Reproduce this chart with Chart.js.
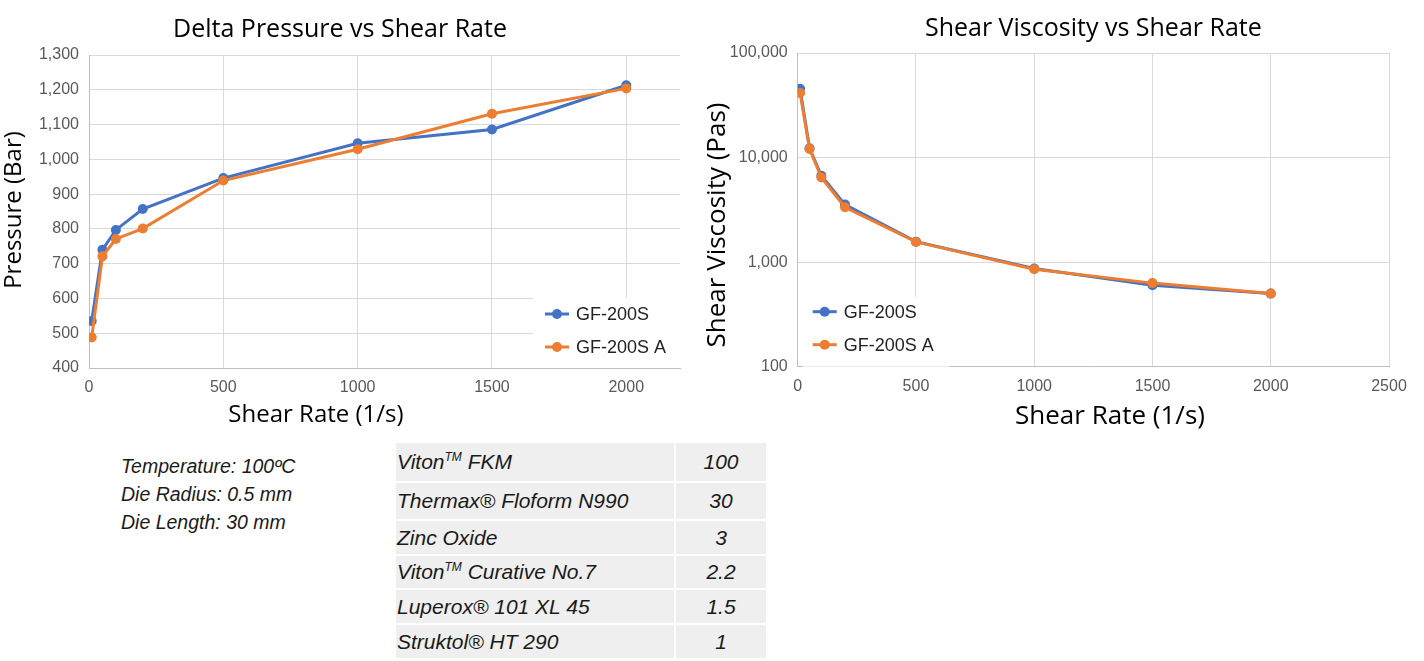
<!DOCTYPE html>
<html>
<head>
<meta charset="utf-8">
<script src="https://cdn.jsdelivr.net/npm/chart.js@4"></script>
<style>
  body { margin: 0; background: #fff; width: 1424px; height: 661px; position: relative; overflow: hidden; }
  #leftBox { position: absolute; left: 0; top: 0; width: 700px; height: 440px; }
  #rightBox { position: absolute; left: 700px; top: 0; width: 724px; height: 440px; }
  .params { position: absolute; left: 121px; top: 452px; font: italic 19.5px "Liberation Sans", Arial, sans-serif; line-height: 28px; color: #1a1a1a; }
  table.recipe { position: absolute; left: 396px; top: 443px; border-collapse: collapse; font: italic 21px "Liberation Sans", Arial, sans-serif; color: #1a1a1a; }
  table.recipe td { background: #efefef; padding: 0 0 0 1px; border-bottom: 2px solid #fff; }
  table.recipe td.amt { text-align: center; border-left: 2px solid #fff; padding: 0; }
  table.recipe tr:last-child td { border-bottom: none; }
  sup { font-size: 12px; vertical-align: 8px; line-height: 0; }
</style>
</head>
<body>
<div id="leftBox"><canvas id="pressureChart" width="700" height="440"></canvas></div>
<div id="rightBox"><canvas id="viscosityChart" width="724" height="440"></canvas></div>

<div class="params">
  Temperature: 100ºC<br>
  Die Radius: 0.5 mm<br>
  Die Length: 30 mm
</div>

<table class="recipe">
  <tr style="height:39px"><td style="width:277px">Viton<sup>TM</sup> FKM</td><td class="amt" style="width:90px">100</td></tr>
  <tr style="height:38px"><td>Thermax® Floform N990</td><td class="amt">30</td></tr>
  <tr style="height:35px"><td>Zinc Oxide</td><td class="amt">3</td></tr>
  <tr style="height:34px"><td>Viton<sup>TM</sup> Curative No.7</td><td class="amt">2.2</td></tr>
  <tr style="height:35px"><td>Luperox® 101 XL 45</td><td class="amt">1.5</td></tr>
  <tr style="height:34px"><td>Struktol® HT 290</td><td class="amt">1</td></tr>
</table>

<script>
// capillary rheometer results

const shearRate = [10, 50, 100, 200, 500, 1000, 1500, 2000];

const pressureGF200S  = [535, 740, 797, 857, 946, 1046, 1086, 1213];
const pressureGF200SA = [488, 721, 771, 801, 939, 1029, 1131, 1204];

const viscosityGF200S  = [45500, 12300, 6700, 3550, 1570, 870, 600, 500];
const viscosityGF200SA = [41500, 12100, 6450, 3350, 1560, 855, 630, 500];

const pressureXTicks = [0, 500, 1000, 1500, 2000];
const viscosityXTicks = [0, 500, 1000, 1500, 2000, 2500];
const viscosityTicks = [100, 1000, 10000, 100000];

const seriesNames = ['GF-200S', 'GF-200S A'];
const blue = '#4472C4';
const orange = '#ED7D31';

const titleFont = { family: 'Open Sans', size: 25, weight: 'normal' };
const tickFont = { family: 'Liberation Sans', size: 16 };
const tickColor = '#595959';
const gridColor = '#d9d9d9';
const axisColor = '#bfbfbf';

// legend drawn inside the plot area, like the Excel one
const insideLegend = {
    id: 'insideLegend',
    beforeDatasetsDraw(chart, args, opts) {
        const ctx = chart.ctx;
        const area = chart.chartArea;
        const boxX = opts.side === 'right' ? area.right - opts.width : area.left + opts.inset;
        const boxY = area.bottom - opts.height;
        ctx.save();
        ctx.fillStyle = '#fff';
        ctx.fillRect(boxX, boxY, opts.width, opts.height);
        ctx.font = '18px "Liberation Sans"';
        ctx.textBaseline = 'middle';
        chart.data.datasets.forEach(function(ds, i) {
            const y = area.bottom - opts.rows[i];
            const x0 = boxX + opts.lineStart;
            ctx.strokeStyle = ds.borderColor;
            ctx.lineWidth = 3;
            ctx.beginPath();
            ctx.moveTo(x0, y);
            ctx.lineTo(x0 + 24, y);
            ctx.stroke();
            ctx.fillStyle = ds.borderColor;
            ctx.beginPath();
            ctx.arc(x0 + 12, y, 5, 0, Math.PI * 2);
            ctx.fill();
            ctx.fillStyle = '#222';
            ctx.fillText(ds.label, x0 + 31, y + 1);
        });
        ctx.restore();
    }
};

// axis captions; Excel did not centre them on the plot area
const axisCaptions = {
    id: 'axisCaptions',
    afterDraw(chart, args, opts) {
        const ctx = chart.ctx;
        ctx.save();
        ctx.font = opts.size + 'px "Open Sans"';
        ctx.fillStyle = '#000';
        ctx.textAlign = 'center';
        ctx.textBaseline = 'middle';
        ctx.fillText(opts.x.text, opts.x.cx, opts.x.cy);
        ctx.translate(opts.y.cx, opts.y.cy);
        ctx.rotate(-Math.PI / 2);
        ctx.fillText(opts.y.text, 0, 0);
        ctx.restore();
    }
};

function makeDatasets(first, second) {
    return [
        { label: seriesNames[0], data: shearRate.map((x, i) => ({ x: x, y: first[i] })),
          borderColor: blue, backgroundColor: blue, borderWidth: 3, pointRadius: 5,
          pointBorderWidth: 0, order: 1 },
        { label: seriesNames[1], data: shearRate.map((x, i) => ({ x: x, y: second[i] })),
          borderColor: orange, backgroundColor: orange, borderWidth: 3, pointRadius: 5,
          pointBorderWidth: 0, order: 0 }
    ];
}

function fixedTicks(values) {
    return function(scale) { scale.ticks = values.map(v => ({ value: v })); };
}

window.onload = function() {
    new Chart(document.getElementById('pressureChart'), {
        type: 'line',
        data: { datasets: makeDatasets(pressureGF200S, pressureGF200SA) },
        plugins: [insideLegend, axisCaptions],
        options: {
            responsive: false,
            animation: false,
            layout: { padding: { top: 2, left: 0, right: 20, bottom: 0 } },
            plugins: {
                legend: { display: false },
                tooltip: { enabled: false },
                title: { display: true, text: 'Delta Pressure vs Shear Rate', font: titleFont,
                         color: '#000', padding: { top: 13, bottom: 10 } },
                insideLegend: { side: 'right', width: 147, height: 70, inset: 0, lineStart: 12, rows: [54, 21] },
                axisCaptions: { size: 24,
                                x: { text: 'Shear Rate (1/s)', cx: 316, cy: 415 },
                                y: { text: 'Pressure (Bar)', cx: 14, cy: 210 } }
            },
            scales: {
                x: {
                    type: 'linear', min: 0, max: 2200,
                    afterBuildTicks: fixedTicks(pressureXTicks),
                    ticks: { font: tickFont, color: tickColor, padding: 10, callback: v => String(v) },
                    grid: { color: gridColor, drawTicks: false },
                    border: { color: axisColor },
                    afterFit: function(s) { s.height = 72; }
                },
                y: {
                    min: 400, max: 1300,
                    ticks: { stepSize: 100, font: tickFont, color: tickColor, padding: 10,
                             callback: v => v.toLocaleString('en-US') },
                    grid: { color: gridColor, drawTicks: false },
                    border: { color: axisColor },
                    afterFit: function(s) { s.width = 89; }
                }
            }
        }
    });

    new Chart(document.getElementById('viscosityChart'), {
        type: 'line',
        data: { datasets: makeDatasets(viscosityGF200S, viscosityGF200SA) },
        plugins: [insideLegend, axisCaptions],
        options: {
            responsive: false,
            animation: false,
            layout: { padding: { top: 0, left: 0, right: 35, bottom: 0 } },
            plugins: {
                legend: { display: false },
                tooltip: { enabled: false },
                title: { display: true, fullSize: false, text: 'Shear Viscosity vs Shear Rate', font: titleFont,
                         color: '#000', padding: { top: 14, bottom: 9 } },
                insideLegend: { side: 'left', width: 147, height: 70, inset: 5, lineStart: 10, rows: [55, 22] },
                axisCaptions: { size: 26,
                                x: { text: 'Shear Rate (1/s)', cx: 410, cy: 417 },
                                y: { text: 'Shear Viscosity (Pas)', cx: 18, cy: 225 } }
            },
            scales: {
                x: {
                    type: 'linear', min: 0, max: 2500,
                    afterBuildTicks: fixedTicks(viscosityXTicks),
                    ticks: { font: tickFont, color: tickColor, padding: 10, callback: v => String(v) },
                    grid: { color: gridColor, drawTicks: false },
                    border: { color: axisColor },
                    afterFit: function(s) { s.height = 73.3; }
                },
                y: {
                    type: 'logarithmic', min: 100, max: 100000,
                    afterBuildTicks: fixedTicks(viscosityTicks),
                    ticks: { font: tickFont, color: tickColor, padding: 10,
                             callback: v => Number(v).toLocaleString('en-US') },
                    grid: { color: gridColor, drawTicks: false },
                    border: { color: axisColor },
                    afterFit: function(s) { s.width = 97.7; }
                }
            }
        }
    });
};
</script>
</body>
</html>
